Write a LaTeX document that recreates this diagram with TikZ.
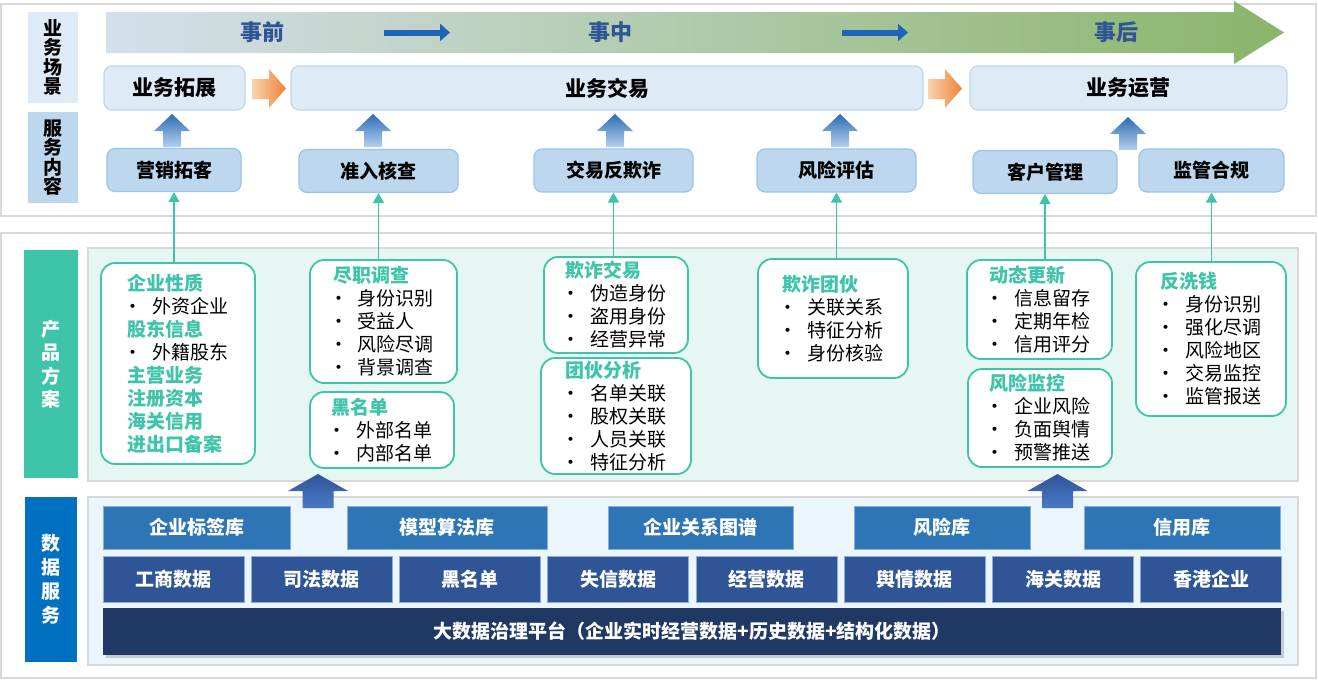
\documentclass[tikz,border=0pt]{standalone}
\usepackage{fontspec}
\setmainfont{Noto Sans CJK SC}
\usetikzlibrary{arrows.meta,shadows}

\definecolor{panelgray}{HTML}{D9D9D9}
\definecolor{scenfill}{HTML}{DEEAF6}
\definecolor{scenline}{HTML}{BDD7EE}
\definecolor{svcfill}{HTML}{BDD7EE}
\definecolor{svcline}{HTML}{9DC3E6}
\definecolor{prodteal}{HTML}{3EC4A8}
\definecolor{prodbg}{HTML}{E6F6F2}
\definecolor{databg}{HTML}{EAF5FC}
\definecolor{datalbl}{HTML}{0070C0}
\definecolor{dtop}{HTML}{2E75B6}
\definecolor{dmid}{HTML}{2F5597}
\definecolor{dbar}{HTML}{203864}
\definecolor{dline}{HTML}{8FAADC}
\definecolor{phasetxt}{HTML}{2F5597}
\definecolor{bandblue}{HTML}{1F64B8}

\newcommand{\phead}[1]{{\bfseries\color{prodteal}#1}}
\newcommand{\pitem}[1]{\makebox[25pt][l]{\hspace{-4pt}\textbullet}#1}

\begin{document}
\begin{tikzpicture}[x=1pt,y=-1pt,
  panel/.style={draw=panelgray,line width=1.2pt},
  lbl/.style={align=center,inner sep=0pt,font=\fontsize{19}{19.5}\selectfont\bfseries},
  scen/.style={draw=scenline,fill=scenfill,rounded corners=8pt,line width=1.2pt,
    minimum height=44pt,font=\fontsize{21}{24}\selectfont\bfseries},
  svc/.style={draw=svcline,fill=svcfill,rounded corners=8pt,line width=1.2pt,
    minimum height=43pt,font=\fontsize{19}{22}\selectfont\bfseries},
  prod/.style={draw=prodteal,fill=white,rounded corners=14pt,line width=1.8pt,
    align=left,inner sep=1pt,font=\fontsize{19}{23}\selectfont},
  datatop/.style={fill=dtop,draw=dline,line width=0.6pt,text=white,
    minimum height=43pt,font=\fontsize{19}{22}\selectfont\bfseries},
  datamid/.style={fill=dmid,draw=dline,line width=0.6pt,text=white,
    minimum height=46pt,minimum width=141pt,font=\fontsize{19}{22}\selectfont\bfseries},
  conn/.style={draw=prodteal,line width=1.3pt,-{Triangle[length=10pt,width=11pt]}},
  phase/.style={text=phasetxt,font=\fontsize{22}{24}\selectfont\bfseries},
  bandarr/.style={draw=bandblue,line width=6pt,-{Triangle[length=10pt,width=17pt]}},
]
\useasboundingbox (0,0) rectangle (1318,680);
%% outside panels
\draw[panel,fill=white] (1,4) rectangle (1316,216);
\draw[panel,fill=white] (1,233) rectangle (1316,678);
\draw[panel,fill=prodbg] (88,248) rectangle (1298,481);
\draw[panel,fill=databg] (88,497) rectangle (1298,665);

%% left labels
\node[lbl,fill=scenfill,minimum width=50pt,minimum height=91pt] (lbscene) at (53,57.5) {业\\务\\场\\景};
\node[lbl,fill=svcfill,minimum width=50pt,minimum height=91pt] (lbsvc) at (53,157.5) {服\\务\\内\\容};
\node[lbl,fill=prodteal,text=white,minimum width=54pt,minimum height=228pt,
  font=\fontsize{19}{23.5}\selectfont\bfseries] (lbprod) at (51,364) {产\\品\\方\\案};
\node[lbl,fill=datalbl,text=white,minimum width=52pt,minimum height=165pt,
  font=\fontsize{19}{24}\selectfont\bfseries] (lbdata) at (51,579.5) {数\\据\\服\\务};

%% big phase arrow
\shade[left color=scenfill!90!gray,middle color={rgb,255:red,180;green,206;blue,212},
  right color={rgb,255:red,138;green,181;blue,106}]
  (106,12) -- (1234,12) -- (1234,1) -- (1284,32.5) -- (1234,64) -- (1234,53) -- (106,53) -- cycle;
\node[phase] (pre) at (262,32) {事前};
\node[phase] (mid) at (610,32) {事中};
\node[phase] (post) at (1116,32) {事后};
\draw[bandarr] (384,32.5) -- (450,32.5);
\draw[bandarr] (842,32.5) -- (908,32.5);

%% business scenes
\node[scen,minimum width=141pt] (ywtz) at (174.5,88) {业务拓展};
\node[scen,minimum width=632pt] (ywjy) at (607,88) {业务交易};
\node[scen,minimum width=317pt] (ywyy) at (1128.5,88) {业务运营};
% orange arrows between scenes
\foreach \ox in {252,928}
  \shade[left color={rgb,255:red,250;green,211;blue,174},right color={rgb,255:red,238;green,132;blue,56}]
    (\ox,79) -- ({\ox+17},79) -- ({\ox+17},69) -- ({\ox+34},88.5) -- ({\ox+17},108)
    -- ({\ox+17},99) -- (\ox,99) -- cycle;

%% services
\node[svc,minimum width=134pt] (yxtk) at (174,170) {营销拓客};
\node[svc,minimum width=159pt] (zrhc) at (378.5,171) {准入核查};
\node[svc,minimum width=159pt] (jyfqz) at (613.5,170.5) {交易反欺诈};
\node[svc,minimum width=159pt] (fxpg) at (836.5,170.5) {风险评估};
\node[svc,minimum width=144pt] (khgl) at (1045,172) {客户管理};
\node[svc,minimum width=145pt] (jghg) at (1211.5,170.5) {监管合规};
% block arrows services -> scenes
\foreach \ax/\ay in {172/114,373/114,615/114,840/114,1128/117}
  \shade[top color={rgb,255:red,46;green,109;blue,180},bottom color={rgb,255:red,180;green,208;blue,236}]
    (\ax,\ay) -- ({\ax+18},{\ay+17}) -- ({\ax+9},{\ay+17}) -- ({\ax+9},{\ay+33})
    -- ({\ax-9},{\ay+33}) -- ({\ax-9},{\ay+17}) -- ({\ax-18},{\ay+17}) -- cycle;

%% product boxes
\node[prod,minimum width=154pt,minimum height=201pt] (qyxz) at (178,363.5)
  {\phead{企业性质}\\ \pitem{外资企业}\\ \phead{股东信息}\\ \pitem{外籍股东}\\
   \phead{主营业务}\\ \phead{注册资本}\\ \phead{海关信用}\\ \phead{进出口备案}};
\node[prod,minimum width=147pt,minimum height=123pt] (jzdc) at (383.5,321.5)
  {\phead{尽职调查}\\ \pitem{身份识别}\\ \pitem{受益人}\\ \pitem{风险尽调}\\ \pitem{背景调查}};
\node[prod,minimum width=144pt,minimum height=76pt] (hmd) at (382,430)
  {\phead{黑名单}\\ \pitem{外部名单}\\ \pitem{内部名单}};
\node[prod,minimum width=144pt,minimum height=96pt] (qzjy) at (616,305)
  {\phead{欺诈交易}\\ \pitem{伪造身份}\\ \pitem{盗用身份}\\ \pitem{经营异常}};
\node[prod,minimum width=150pt,minimum height=116pt] (thfx) at (616,416)
  {\phead{团伙分析}\\ \pitem{名单关联}\\ \pitem{股权关联}\\ \pitem{人员关联}\\ \pitem{特征分析}};
\node[prod,minimum width=150pt,minimum height=119pt] (qzth) at (833,318.5)
  {\phead{欺诈团伙}\\ \pitem{关联关系}\\ \pitem{特征分析}\\ \pitem{身份核验}};
\node[prod,minimum width=145pt,minimum height=99pt] (dtgx) at (1039.5,309.5)
  {\phead{动态更新}\\ \pitem{信息留存}\\ \pitem{定期年检}\\ \pitem{信用评分}};
\node[prod,minimum width=144pt,minimum height=98pt] (fxjk) at (1040,418)
  {\phead{风险监控}\\ \pitem{企业风险}\\ \pitem{负面舆情}\\ \pitem{预警推送}};
\node[prod,minimum width=150pt,minimum height=154pt] (fxq) at (1211,339)
  {\phead{反洗钱}\\ \pitem{身份识别}\\ \pitem{强化尽调}\\ \pitem{风险地区}\\ \pitem{交易监控}\\ \pitem{监管报送}};

%% connectors products -> services
\draw[conn] (yxtk.south |- qyxz.north) -- (yxtk.south);
\draw[conn] (zrhc.south |- jzdc.north) -- (zrhc.south);
\draw[conn] (jyfqz.south |- qzjy.north) -- (jyfqz.south);
\draw[conn] (fxpg.south |- qzth.north) -- (fxpg.south);
\draw[conn] (khgl.south |- dtgx.north) -- (khgl.south);
\draw[conn] (jghg.south |- fxq.north) -- (jghg.south);

%% data services
\node[datatop,minimum width=187pt] (bqk) at (196.5,527.5) {企业标签库};
\node[datatop,minimum width=200pt] (mxk) at (447,527.5) {模型算法库};
\node[datatop,minimum width=185pt] (gxtp) at (700.5,527.5) {企业关系图谱};
\node[datatop,minimum width=176pt] (fxk) at (942,527.5) {风险库};
\node[datatop,minimum width=196pt] (xyk) at (1182,527.5) {信用库};
\foreach \t [count=\i from 0] in {工商数据,司法数据,黑名单,失信数据,经营数据,舆情数据,海关数据,香港企业}
  \node[datamid] (dm\i) at ({173.5+148.25*\i},579) {\t};
\node[fill=dbar,text=white,minimum width=1178pt,minimum height=47pt,
  font=\fontsize{19}{22}\selectfont\bfseries,
  drop shadow={shadow xshift=3pt,shadow yshift=-3pt,opacity=0.35}] (dsjpt) at (692,631.5)
  {大数据治理平台（企业实时经营数据+历史数据+结构化数据）};
% block arrows data -> products
\foreach \ax in {318,1057.5}
  \shade[top color=dmid,bottom color={rgb,255:red,74;green,120;blue,200}]
    (\ax,474) -- ({\ax+30},491) -- ({\ax+15.5},491) -- ({\ax+15.5},508)
    -- ({\ax-15.5},508) -- ({\ax-15.5},491) -- ({\ax-30},491) -- cycle;
\end{tikzpicture}
\end{document}
